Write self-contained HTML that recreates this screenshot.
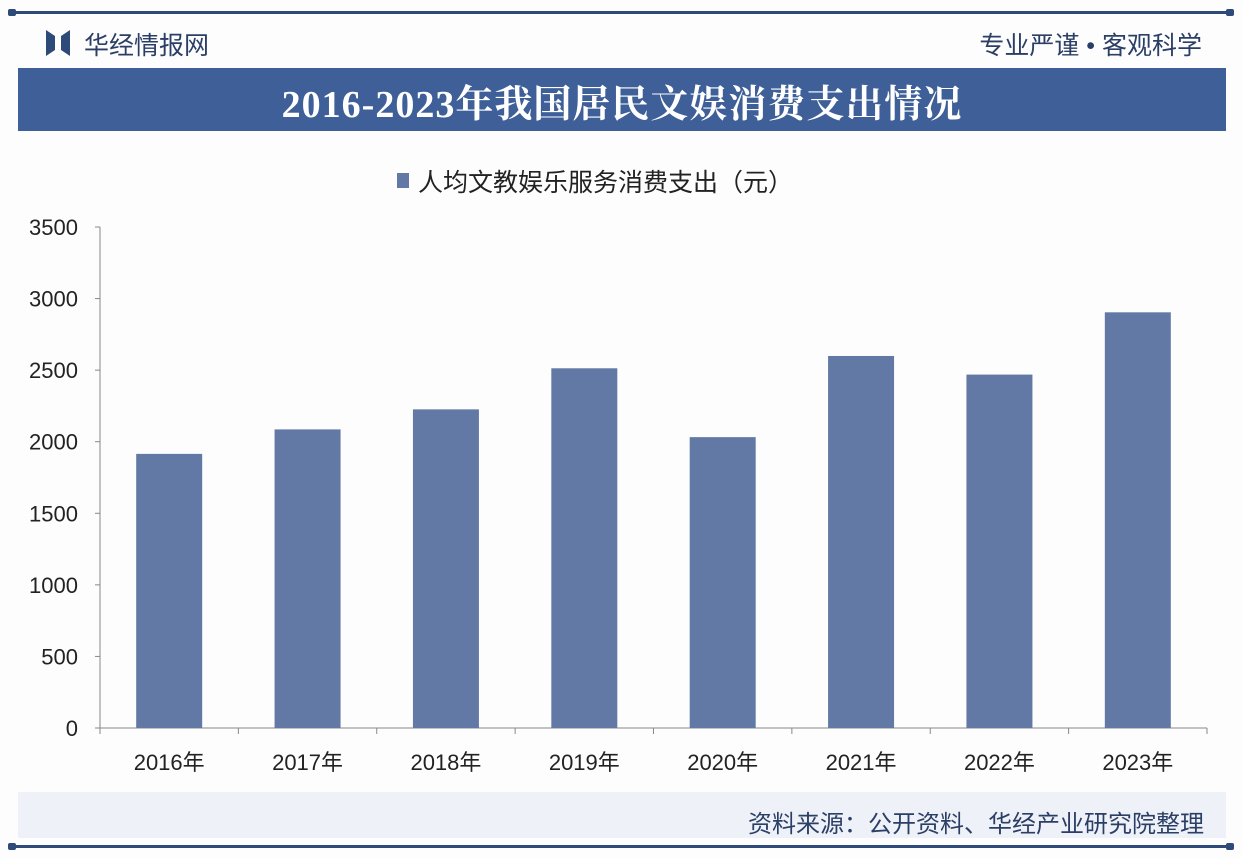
<!DOCTYPE html>
<html><head><meta charset="utf-8"><style>
body{margin:0;width:1242px;height:858px;background:#fdfdfe;position:relative;overflow:hidden;font-family:"Liberation Sans","Noto Sans CJK SC",sans-serif;}
.abs{position:absolute;}
</style></head><body>
<div class="abs" style="left:10px;top:11px;width:1222px;height:3px;background:#2e4a78"></div>
<div class="abs" style="left:8px;top:9px;width:8px;height:7px;background:#2e4a78;border-radius:2px"></div>
<div class="abs" style="left:1226px;top:9px;width:8px;height:7px;background:#2e4a78;border-radius:2px"></div>
<svg class="abs" style="left:46px;top:30px" width="24" height="26"><path d="M0 0 L9 6 L9 20 L0 26Z M24 0 L15 6 L15 20 L24 26Z" fill="#2e4a78"/></svg>
<div class="abs" style="left:84px;top:26px;font-size:25px;color:#2b3f66">华经情报网</div>
<div class="abs" style="right:40px;top:26px;font-size:25px;color:#2b3f66">专业严谨 • 客观科学</div>
<div class="abs" style="left:18px;top:68px;width:1208px;height:63px;background:#3e5f98"></div>
<div class="abs" style="left:18px;top:73px;width:1208px;text-align:center;font-size:38px;letter-spacing:1px;font-weight:bold;color:#fff;font-family:'Liberation Serif','Noto Serif CJK SC',serif">2016-2023年我国居民文娱消费支出情况</div>
<div class="abs" style="left:18px;top:792px;width:1208px;height:46px;background:#eef1f7"></div>
<div class="abs" style="right:38px;top:804px;font-size:24px;color:#2b3f66">资料来源：公开资料、华经产业研究院整理</div>
<div class="abs" style="left:10px;top:845px;width:1222px;height:3px;background:#2e4a78"></div>
<div class="abs" style="left:8px;top:843px;width:8px;height:7px;background:#2e4a78;border-radius:2px"></div>
<div class="abs" style="left:1226px;top:843px;width:8px;height:7px;background:#2e4a78;border-radius:2px"></div>
<svg id="chart" class="abs" style="left:0;top:0" width="1242" height="858"></svg>
<script>
const categories=["2016年","2017年","2018年","2019年","2020年","2021年","2022年","2023年"];
const values=[1915,2086,2226,2513,2032,2599,2469,2904];
const yTicks=[0,500,1000,1500,2000,2500,3000,3500];
const seriesName="人均文教娱乐服务消费支出（元）";
const svg=document.getElementById('chart');
const NS="http://www.w3.org/2000/svg";
const x0=100,x1=1207,y0=728,yTop=227,yMax=3500;
const y=v=>y0-(v/yMax)*(y0-yTop);
const band=(x1-x0)/categories.length;
const bx=i=>x0+band*i;
function mk(t,a,txt){const e=document.createElementNS(NS,t);for(const k in a)e.setAttribute(k,a[k]);if(txt!==undefined)e.textContent=txt;svg.appendChild(e);return e;}
let e=mk('line',{x1:x0,y1:yTop,x2:x0,y2:y0,stroke:'#888'});


e=mk('line',{x1:x0,y1:y0,x2:x1,y2:y0,stroke:'#888'});


yTicks.forEach(t=>{
 let l=mk('line',{x1:x0-5,y1:y(t),x2:x0,y2:y(t),stroke:'#888'});
 
 
 let tx=mk('text',{x:x0-22,y:y(t)+8,'text-anchor':'end','font-size':22,fill:'#222','font-family':'Liberation Sans, sans-serif'},t);
 
 
});
for(let i=0;i<=categories.length;i++){
 let l=mk('line',{x1:bx(i),y1:y0,x2:bx(i),y2:y0+6,stroke:'#888'});
 
 
}
const bw=66;
categories.forEach((c,i)=>{
 const cx=bx(i)+band/2;
 let r=mk('rect',{x:cx-bw/2,y:y(values[i]),width:bw,height:y0-y(values[i]),fill:'#6279a6'});
 
 
 let t=mk('text',{x:cx,y:y0+42,'text-anchor':'middle','font-size':22,fill:'#222','font-family':'Liberation Sans, Noto Sans CJK SC, sans-serif'},c);
 
 
});
let lg=mk('rect',{x:397,y:173,width:12,height:15,fill:'#6279a6'});


let lt=mk('text',{x:418,y:191,'font-size':25,fill:'#222','font-family':'Liberation Sans, Noto Sans CJK SC, sans-serif'},seriesName);


</script>
</body></html>
